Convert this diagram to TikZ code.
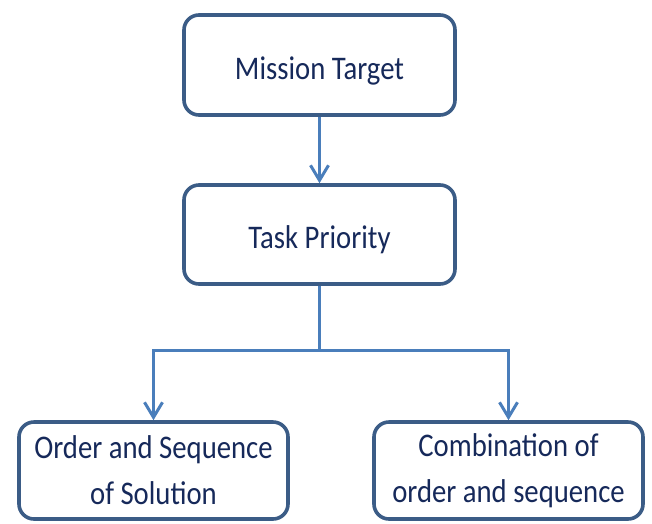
\documentclass[tikz,border=0pt]{standalone}
\usepackage{fontspec}
\setmainfont{Carlito}[FakeStretch=0.87]
\usetikzlibrary{arrows.meta}
\definecolor{boxline}{HTML}{3B5C86}
\definecolor{linkline}{HTML}{4A7EBB}
\definecolor{labeltext}{HTML}{16295A}
\begin{document}
\begin{tikzpicture}[x=1pt,y=-1pt,
  stepbox/.style={draw=boxline, line width=3.6pt, rounded corners=15pt, fill=white,
    text=labeltext, align=center, inner sep=0pt,
    font=\fontsize{33}{46}\selectfont},
  oneline/.style={text height=28pt, text depth=0pt},
  link/.style={draw=linkline, line width=3pt},
  arrowlink/.style={link, -{Straight Barb[length=15pt, width=18pt, line width=3pt]}}]
  \useasboundingbox (0,0) rectangle (652,523);
  % the two upper stages
  \node[stepbox, oneline, minimum width=271pt, minimum height=100pt] (mission) at (319.5,65) {Mission Target};
  \node[stepbox, oneline, minimum width=271pt, minimum height=99pt] (task) at (319.5,234.5) {Task Priority};
  % the two outcomes
  \node[stepbox, minimum width=269pt, minimum height=97pt] (order) at (153.5,470.5) {Order and Sequence\\of Solution};
  \node[stepbox, minimum width=269pt, minimum height=97pt] (combo) at (508.5,470.5) {Combination of\\order and sequence};
  % connectors
  \draw[arrowlink] (mission.south) -- (task.north);
  \coordinate (split) at (task.south |- 0,350);
  \draw[link] (task.south) -- (split);
  \draw[arrowlink] (split) -| (order.north);
  \draw[arrowlink] (split) -| (combo.north);
\end{tikzpicture}
\end{document}
